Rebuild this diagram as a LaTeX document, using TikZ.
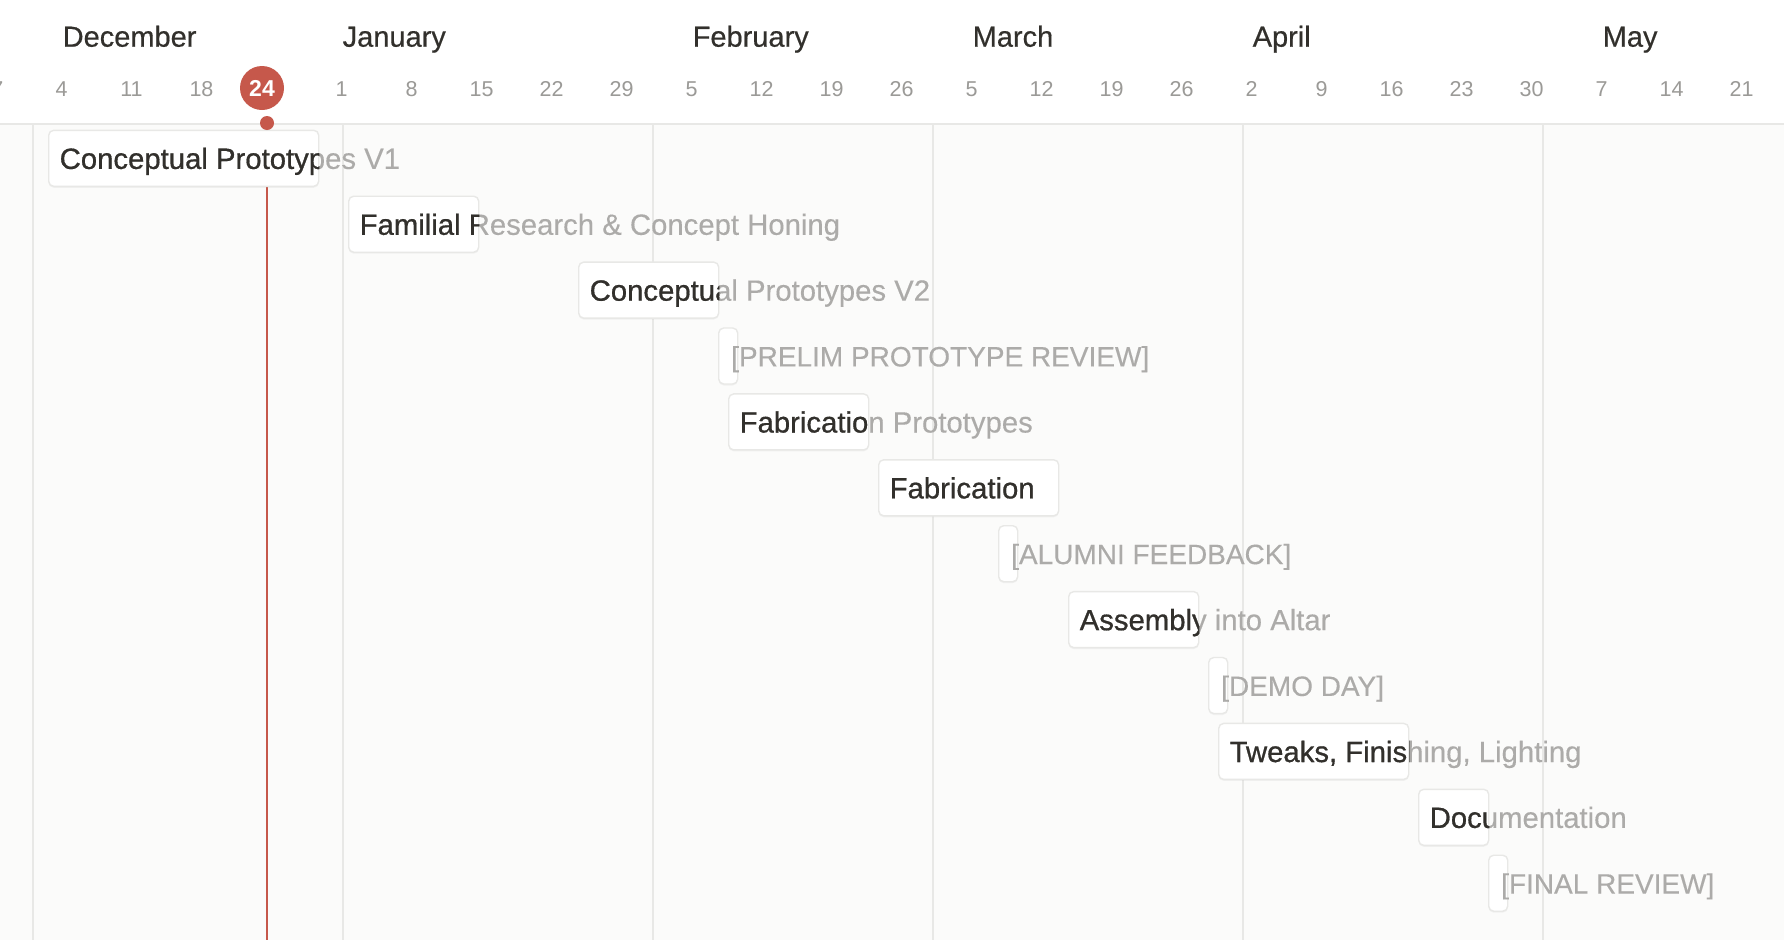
\documentclass[tikz,border=0pt]{standalone}
\usepackage{fontspec}
\setmainfont{Liberation Sans}
\newfontfamily\medfont{Liberation Sans}[FakeBold=0.5]
\newfontfamily\taskfont{Liberation Sans}[FakeBold=0.25]
\usepackage{tikz}
\usetikzlibrary{positioning}
\usetikzlibrary{shadows}

\definecolor{inkdark}{RGB}{50,48,44}
\definecolor{inkfade}{RGB}{172,171,169}
\definecolor{inkday}{RGB}{155,154,151}
\definecolor{gridgray}{RGB}{232,232,230}
\definecolor{bodybg}{RGB}{251,251,250}
\definecolor{todayred}{RGB}{198,88,75}

\begin{document}
\begin{tikzpicture}[x=1pt, y=-1pt,
    bar/.style={draw=gridgray, line width=1.4pt, fill=white, rounded corners=5pt,
        minimum height=56pt, inner sep=0pt, anchor=west,
        drop shadow={opacity=0.08, shadow xshift=0pt, shadow yshift=-1.5pt}},
    tasktext/.style={font=\taskfont\fontsize{29.3}{34}\selectfont, inner sep=0pt, anchor=base west},
    milestonetext/.style={font=\taskfont\fontsize{28}{34}\selectfont, inner sep=0pt, anchor=base west},
    daytext/.style={font=\fontsize{21.5}{26}\selectfont, text=inkday, inner sep=0pt, anchor=base},
    monthtext/.style={font=\medfont\fontsize{29}{34}\selectfont, text=inkdark, inner sep=0pt, anchor=base west},
    gridline/.style={draw=gridgray, line width=1.5pt}]
    \useasboundingbox (0,0) rectangle (1784,940);
    \clip (0,0) rectangle (1784,940);
    \fill[white] (0,0) rectangle (1784,124);
    \fill[bodybg] (0,124) rectangle (1784,940);
    \foreach \x in {33,343,653,933,1243,1543}
        \draw[gridline] (\x,124) -- (\x,940);
    \draw[gridgray, line width=2pt] (0,124) -- (1784,124);
    \coordinate (todaytop) at (267,123);
    \coordinate (todayend) at (267,940);
    \draw[todayred, line width=1.6pt] (todaytop) -- (todayend);
    \foreach \n/\r/\a/\b/\t in {cpa/0/-29/-3/Conceptual Prototypes V1,
            famr/1/1/13/Familial Research \& Concept Honing,
            cpb/2/24/37/Conceptual Prototypes V2,
            fabp/4/39/52/Fabrication Prototypes,
            fab/5/54/71/Fabrication,
            asm/7/73/85/Assembly into Altar,
            tweak/9/88/106/{Tweaks, Finishing, Lighting},
            docs/10/108/114/Documentation} {
        \pgfmathsetmacro\l{338+10*\a}
        \pgfmathsetmacro\w{10*(\b-\a)+10}
        \pgfmathsetmacro\y{158.3+65.9*\r}
        \node[bar, minimum width=\w pt] (\n) at (\l,\y) {};
        \node[tasktext, text=inkfade] (\n-fade) at ([xshift=11.5pt, yshift=-10.6pt]\n.west) {\t};
        \begin{scope}
            \clip[rounded corners=5pt] (\n.south west) rectangle (\n.north east);
            \node[tasktext, text=inkdark] (\n-ink) at ([xshift=11.5pt, yshift=-10.6pt]\n.west) {\t};
        \end{scope}
    }
    \foreach \n/\r/\a/\t in {prelim/3/38/{[PRELIM PROTOTYPE REVIEW]},
            alumni/6/66/{[ALUMNI FEEDBACK]},
            demo/8/87/{[DEMO DAY]},
            final/11/115/{[FINAL REVIEW]}} {
        \pgfmathsetmacro\l{338+10*\a}
        \pgfmathsetmacro\y{158.3+65.9*\r}
        \node[bar, minimum width=19pt] (\n) at (\l,\y) {};
        \node[milestonetext, text=inkfade] (\n-fade) at ([xshift=13pt, yshift=-10.4pt]\n.west) {\t};
    }
    \foreach \d/\t in {-35/27,-28/4,-21/11,-14/18,0/1,7/8,14/15,21/22,28/29,
            35/5,42/12,49/19,56/26,63/5,70/12,77/19,84/26,91/2,98/9,105/16,
            112/23,119/30,126/7,133/14,140/21}
        \node[daytext] (day\d) at (341.5+10*\d,96) {\t};
    \foreach \d/\t in {-28/December,0/January,35/February,63/March,91/April,126/May}
        \node[monthtext] (month\d) at (342.5+10*\d,46.7) {\t};
    \node[circle, fill=todayred, minimum size=44pt, inner sep=0pt, text=white,
        font=\bfseries\fontsize{23}{28}\selectfont] (today) at (262,88) {24};
    \node[circle, fill=todayred, minimum size=14pt, inner sep=0pt] (todaydot) at (todaytop) {};
\end{tikzpicture}
\end{document}
